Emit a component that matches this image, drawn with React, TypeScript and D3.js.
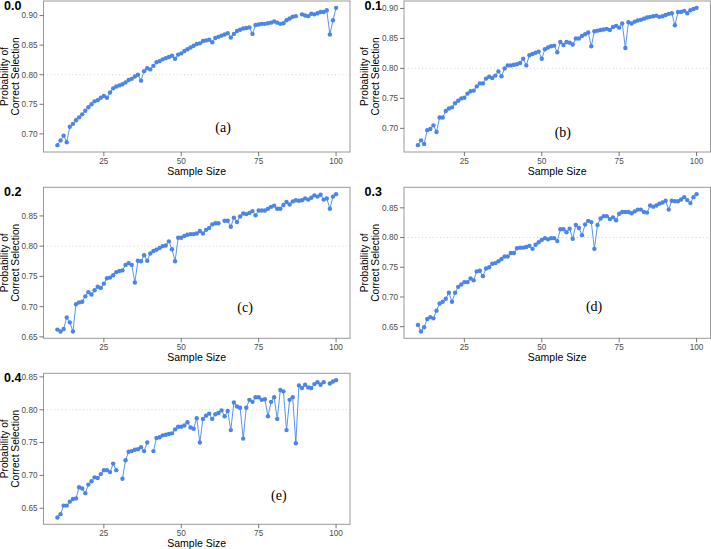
import * as d3 from 'd3';

// sample sizes shared by every panel
const sampleSizes = d3.range(10, 101);

// probability of correct selection, one array per correlation level (null = not available)
const prob00 = [
  0.681, 0.689, 0.697, 0.686, 0.712, 0.717, 0.723, 0.728, 0.733, 0.739,
  0.745, 0.750, 0.755, 0.757, 0.761, 0.764, 0.761, 0.770, 0.777, 0.780,
  0.782, 0.784, 0.787, 0.791, 0.793, 0.797, 0.800, 0.790, 0.806, 0.811,
  0.809, 0.815, 0.821, 0.823, 0.826, 0.828, 0.830, 0.832, 0.827, 0.834,
  0.836, 0.840, 0.843, 0.846, 0.849, 0.852, 0.853, 0.857, 0.858, 0.859,
  0.855, 0.862, 0.864, 0.866, 0.868, 0.870, 0.863, 0.869, 0.874, 0.876,
  0.878, 0.879, 0.880, 0.869, 0.884, 0.885, 0.886, 0.886, 0.887, 0.888,
  0.890, 0.888, 0.886, 0.887, 0.892, 0.895, 0.898, 0.899, null, 0.902,
  0.900, 0.899, 0.903, 0.902, 0.904, 0.906, 0.906, 0.909, 0.868, 0.892, 0.913,
];
const prob01 = [
  0.672, 0.680, 0.674, 0.697, 0.699, 0.705, 0.694, 0.718, 0.718, 0.729,
  0.733, 0.735, 0.742, 0.746, 0.750, 0.751, 0.758, 0.762, 0.763, 0.770,
  0.775, 0.775, 0.783, 0.786, 0.784, 0.788, 0.795, 0.787, 0.800, 0.805,
  0.805, 0.806, 0.807, 0.809, 0.816, 0.805, 0.822, 0.824, 0.826, 0.828,
  0.816, 0.832, 0.835, 0.837, 0.838, 0.827, 0.844, 0.839, 0.844, 0.843,
  0.840, 0.850, 0.850, 0.854, 0.857, 0.860, 0.837, 0.862, 0.863, 0.864,
  0.865, 0.866, 0.864, 0.869, 0.871, 0.868, 0.875, 0.834, 0.877, 0.875,
  0.878, 0.880, 0.881, 0.883, 0.885, 0.886, 0.887, 0.888, 0.886, 0.887,
  0.889, 0.891, 0.892, 0.872, 0.894, 0.894, 0.896, 0.892, 0.897, 0.899, 0.901,
];
const prob02 = [
  0.662, 0.659, 0.663, 0.682, 0.674, 0.659, 0.704, 0.707, 0.708, 0.717,
  0.724, 0.720, 0.727, 0.733, 0.731, 0.738, 0.747, 0.748, 0.752, 0.757,
  0.759, 0.760, 0.769, 0.772, 0.769, 0.740, 0.776, 0.775, 0.785, 0.776,
  0.788, 0.792, 0.794, 0.797, 0.800, 0.801, 0.808, 0.795, 0.775, 0.814,
  0.814, 0.817, 0.819, 0.820, 0.820, 0.821, 0.825, 0.821, 0.827, 0.830,
  0.836, 0.838, 0.838, null, 0.842, 0.842, 0.832, 0.847, 0.840, 0.849,
  0.854, 0.853, 0.855, 0.858, 0.851, 0.859, 0.859, 0.859, 0.862, 0.865,
  0.867, 0.862, 0.862, 0.868, 0.873, 0.869, 0.874, 0.876, 0.875, 0.876,
  0.879, 0.877, 0.880, 0.884, 0.882, 0.885, 0.877, 0.879, 0.862, 0.882, 0.886,
];
const prob03 = [
  0.653, 0.642, 0.649, 0.663, 0.666, 0.664, 0.677, 0.689, 0.692, 0.697,
  0.707, 0.692, 0.707, 0.717, 0.721, 0.725, 0.725, 0.731, 0.728, 0.743,
  0.744, 0.735, 0.748, 0.750, 0.756, 0.757, 0.760, 0.764, 0.768, 0.768,
  0.774, 0.774, 0.782, 0.783, 0.783, 0.784, 0.786, 0.781, 0.788, 0.792,
  0.796, 0.799, 0.797, 0.799, 0.799, 0.794, 0.814, 0.814, 0.809, 0.815,
  0.798, 0.821, 0.816, 0.804, 0.822, 0.828, 0.826, 0.781, 0.821, 0.832,
  0.836, 0.836, 0.831, 0.834, 0.829, 0.840, 0.843, 0.843, 0.843, 0.841,
  0.844, 0.847, 0.847, 0.843, 0.842, 0.854, 0.852, 0.854, 0.857, 0.859,
  0.862, 0.847, 0.862, 0.861, 0.861, 0.864, 0.868, 0.863, 0.858, 0.868, 0.873,
];
const prob04 = [
  0.636, 0.641, 0.654, 0.654, 0.660, 0.664, 0.665, 0.682, 0.680, 0.673,
  0.686, 0.691, 0.697, 0.696, 0.702, 0.708, 0.708, 0.705, 0.718, 0.708,
  null, 0.695, 0.723, 0.736, 0.737, 0.739, 0.740, 0.743, 0.737, 0.750,
  null, 0.737, 0.757, 0.758, 0.761, 0.762, 0.763, 0.764, 0.770, 0.774,
  0.774, 0.776, 0.781, 0.773, 0.771, 0.787, 0.750, 0.786, 0.791, 0.794,
  0.786, 0.793, 0.795, 0.799, 0.790, 0.798, 0.769, 0.811, 0.805, 0.803,
  0.756, 0.803, 0.815, 0.812, 0.819, 0.819, 0.815, 0.816, 0.790, 0.812,
  0.819, 0.786, 0.830, 0.828, 0.769, 0.815, 0.819, 0.749, 0.837, 0.833,
  0.838, 0.834, 0.833, 0.839, 0.842, 0.838, 0.842, null, 0.840, 0.843, 0.845,
];

const panelTitles = ['0.0', '0.1', '0.2', '0.3', '0.4'];
const panelTags = ['(a)', '(b)', '(c)', '(d)', '(e)'];
// where each tag sits, in data units (sample size, probability)
const tagSizes = [63.5, 56.8, 70.6, 66.9, 81.5];
const tagProbs = [0.712, 0.694, 0.699, 0.685, 0.67];
const xTicks = [25, 50, 75, 100];
const refLine = 0.8;

const series = [prob00, prob01, prob02, prob03, prob04];

const W = 711;
const H = 549;
const colLeft = [43.5, 404];
const rowTop = [1, 187.3, 373.3];
const PW = 306.5;
const PH = 151;
const BLUE = '#4a86e8';
const SANS = '"Liberation Sans", Arial, Helvetica, sans-serif';

type Pt = { n: number; p: number | null };

function Panel({ idx }: { idx: number }) {
  const left = colLeft[idx % 2];
  const top = rowTop[Math.floor(idx / 2)];
  const pts: Pt[] = sampleSizes.map((n, i) => ({ n, p: series[idx][i] }));

  const x = d3.scaleLinear().domain([5.5, 104.5]).range([left, left + PW]);
  const [lo, hi] = d3.extent(pts.filter(d => d.p != null), d => d.p as number) as [number, number];
  const pad = (hi - lo) * 0.05;
  const y = d3.scaleLinear().domain([lo - pad, hi + pad]).range([top + PH, top]);
  const yTicks = y.ticks(5);

  const line = d3.line<Pt>()
    .defined(d => d.p != null)
    .x(d => x(d.n))
    .y(d => y(d.p as number));

  const bottom = top + PH;
  const cy = top + PH / 2;

  return (
    <g>
      <line x1={left} x2={left + PW} y1={y(refLine)} y2={y(refLine)}
        stroke="#c8c8c8" strokeWidth={0.8} strokeDasharray="1 2.6" />
      <path d={line(pts) || ''} fill="none" stroke={BLUE} strokeWidth={0.9} />
      {pts.filter(d => d.p != null).map(d => (
        <circle key={d.n} cx={x(d.n)} cy={y(d.p as number)} r={2.2} fill={BLUE} />
      ))}
      <rect x={left} y={top} width={PW} height={PH} fill="none" stroke="#9a9a9a" strokeWidth={1} />

      {yTicks.map(t => (
        <g key={t}>
          <line x1={left - 4} x2={left} y1={y(t)} y2={y(t)} stroke="#555" strokeWidth={0.8} />
          <text x={left - 6} y={y(t)} dy="0.35em" textAnchor="end" fontSize={8.2} fill="#4d4d4d">
            {d3.format('.2f')(t)}
          </text>
        </g>
      ))}
      {xTicks.map(t => (
        <g key={t}>
          <line x1={x(t)} x2={x(t)} y1={bottom} y2={bottom + 4} stroke="#555" strokeWidth={0.8} />
          <text x={x(t)} y={bottom + 12} textAnchor="middle" fontSize={8.2} fill="#4d4d4d">{t}</text>
        </g>
      ))}

      <text x={left + PW / 2} y={bottom + 22.5} textAnchor="middle" fontSize={10.5} fill="#000">Sample Size</text>
      <text transform={`translate(${left - 36},${cy}) rotate(-90)`} textAnchor="middle" fontSize={10.2} fill="#000">
        Probability of
      </text>
      <text transform={`translate(${left - 25},${cy}) rotate(-90)`} textAnchor="middle" fontSize={10.2} fill="#000">
        Correct Selection
      </text>
      <text x={left - 39.5} y={top + 8.8} fontSize={12.5} fontWeight="bold" fill="#000">{panelTitles[idx]}</text>
      <text x={x(tagSizes[idx])} y={y(tagProbs[idx])} dy="0.35em" textAnchor="middle"
        fontSize={14} fontFamily='"Liberation Serif", "DejaVu Serif", serif' fill="#000">
        {panelTags[idx]}
      </text>
    </g>
  );
}

export default function App() {
  return (
    <svg width={W} height={H} style={{ position: 'absolute', left: 0, top: 0, background: '#fff' }}
      fontFamily={SANS}>
      <rect width={W} height={H} fill="#fff" />
      {series.map((_, i) => <Panel key={i} idx={i} />)}
    </svg>
  );
}
